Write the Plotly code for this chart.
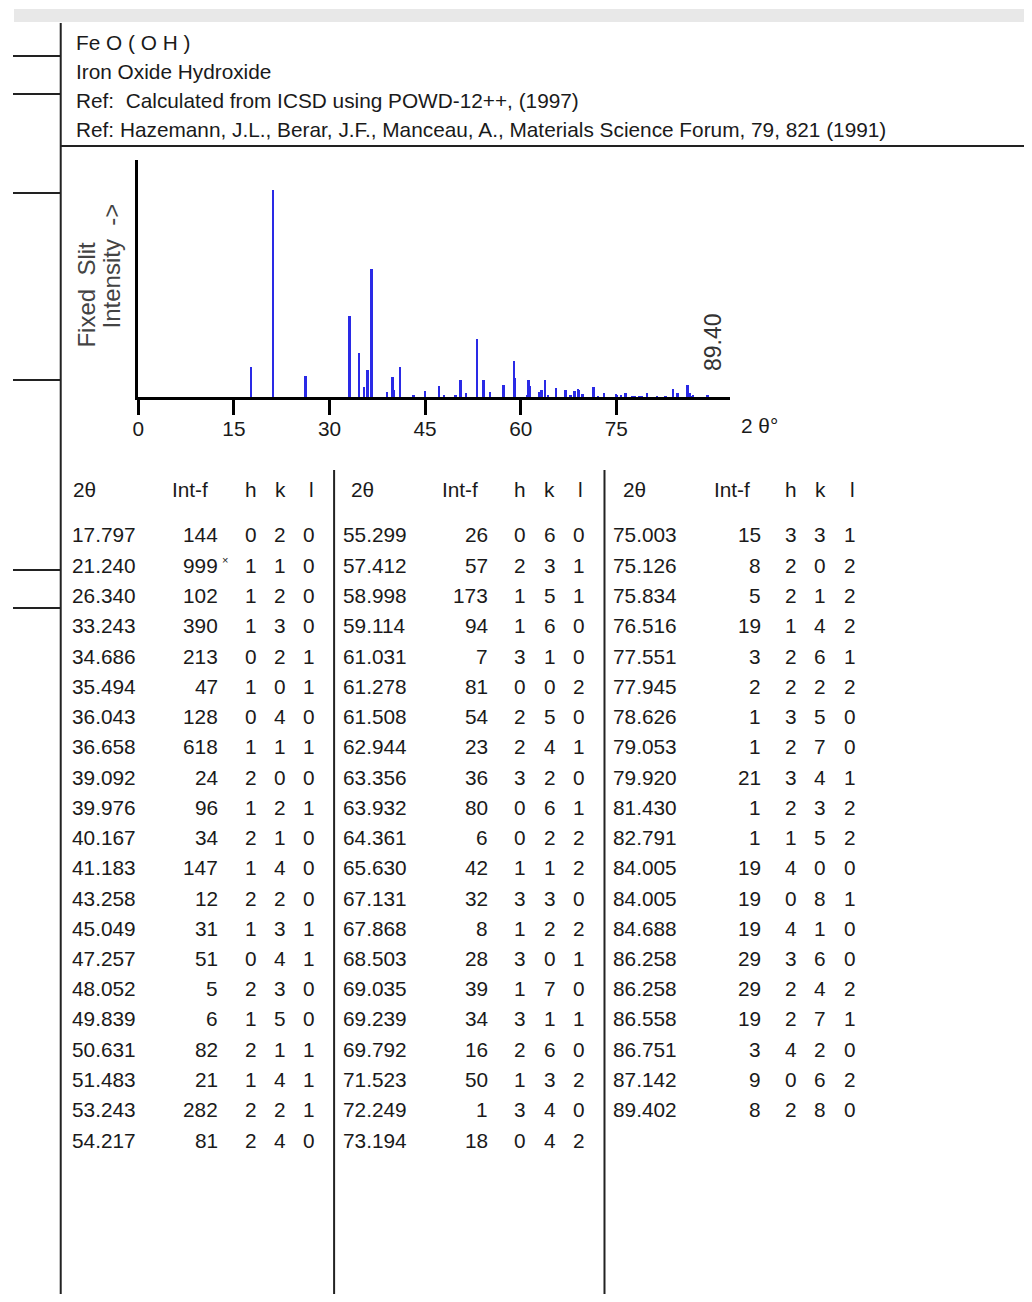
import plotly.graph_objects as go

# page geometry: browser body keeps its default 8px margin
PAGE_W, PAGE_H = 1032, 1302
OFF = 8
DX = -5          # small horizontal correction observed in rendering
PAD = 3          # annotation inner padding
W, H = PAGE_W - 2 * OFF, PAGE_H - 2 * OFF

# ---------------- data ----------------
formula = "Fe O ( O H )"
compound_name = "Iron Oxide Hydroxide"
ref1 = "Ref:  Calculated from ICSD using POWD-12++, (1997)"
ref2 = "Ref: Hazemann, J.L., Berar, J.F., Manceau, A., Materials Science Forum, 79, 821 (1991)"

two_theta = [
    17.797, 21.240, 26.340, 33.243, 34.686, 35.494, 36.043, 36.658, 39.092, 39.976,
    40.167, 41.183, 43.258, 45.049, 47.257, 48.052, 49.839, 50.631, 51.483, 53.243,
    54.217,
    55.299, 57.412, 58.998, 59.114, 61.031, 61.278, 61.508, 62.944, 63.356, 63.932,
    64.361, 65.630, 67.131, 67.868, 68.503, 69.035, 69.239, 69.792, 71.523, 72.249,
    73.194,
    75.003, 75.126, 75.834, 76.516, 77.551, 77.945, 78.626, 79.053, 79.920, 81.430,
    82.791, 84.005, 84.005, 84.688, 86.258, 86.258, 86.558, 86.751, 87.142, 89.402,
]
int_f = [
    144, 999, 102, 390, 213, 47, 128, 618, 24, 96,
    34, 147, 12, 31, 51, 5, 6, 82, 21, 282,
    81,
    26, 57, 173, 94, 7, 81, 54, 23, 36, 80,
    6, 42, 32, 8, 28, 39, 34, 16, 50, 1,
    18,
    15, 8, 5, 19, 3, 2, 1, 1, 21, 1,
    1, 19, 19, 19, 29, 29, 19, 3, 9, 8,
]
h_idx = [
    0, 1, 1, 1, 0, 1, 0, 1, 2, 1, 2, 1, 2, 1, 0, 2, 1, 2, 1, 2, 2,
    0, 2, 1, 1, 3, 0, 2, 2, 3, 0, 0, 1, 3, 1, 3, 1, 3, 2, 1, 3, 0,
    3, 2, 2, 1, 2, 2, 3, 2, 3, 2, 1, 4, 0, 4, 3, 2, 2, 4, 0, 2,
]
k_idx = [
    2, 1, 2, 3, 2, 0, 4, 1, 0, 2, 1, 4, 2, 3, 4, 3, 5, 1, 4, 2, 4,
    6, 3, 5, 6, 1, 0, 5, 4, 2, 6, 2, 1, 3, 2, 0, 7, 1, 6, 3, 4, 4,
    3, 0, 1, 4, 6, 2, 5, 7, 4, 3, 5, 0, 8, 1, 6, 4, 7, 2, 6, 8,
]
l_idx = [
    0, 0, 0, 0, 1, 1, 0, 1, 0, 1, 0, 0, 0, 1, 1, 0, 0, 1, 1, 1, 0,
    0, 1, 1, 0, 0, 2, 0, 1, 0, 1, 2, 2, 0, 2, 1, 0, 1, 0, 2, 0, 2,
    1, 2, 2, 2, 1, 2, 0, 0, 1, 2, 2, 0, 1, 0, 0, 2, 1, 0, 2, 0,
]
rows_per_block = [21, 21, 20]
x_ticks = [0, 15, 30, 45, 60, 75]
table_headers = ["2θ", "Int-f", "h", "k", "l"]
y_title_1 = "Fixed  Slit"
y_title_2 = "Intensity  ->"
x_title = "2 θ°"
last_peak_label = "89.40"

# ---------------- helpers (page pixel -> paper) ----------------
def px(x):
    return (x + DX - OFF) / W


def py(y):
    return 1 - (y - OFF) / H


SANS = "Liberation Sans, Arial, sans-serif"
INK = "#1a1a1a"
TXT = 20.8

fig = go.Figure()
fig.add_trace(
    go.Bar(
        x=two_theta,
        y=int_f,
        width=0.3,
        marker=dict(color="#2a2ae6", line=dict(width=0)),
        hoverinfo="x+y",
        showlegend=False,
    )
)

shapes = []


def line(x0, y0, x1, y1, w=2, c="#222222"):
    shapes.append(dict(type="line", xref="paper", yref="paper",
                       x0=px(x0), y0=py(y0), x1=px(x1), y1=py(y1),
                       line=dict(color=c, width=w)))


BOTTOM = PAGE_H - OFF
# top grey band
shapes.append(dict(type="rect", xref="paper", yref="paper", x0=0, x1=1,
                   y0=py(22), y1=py(9), fillcolor="#e8e8e8", line=dict(width=0), layer="below"))
# frame lines
line(60, 23, 60, BOTTOM)
for sy in [56, 94, 193, 380, 570, 608]:
    line(12, sy, 60, sy)
line(60, 146, PAGE_W + 10, 146)
line(335, 470, 335, BOTTOM)
line(607, 470, 607, BOTTOM)

annotations = []


def text(x, y, s, size=TXT, anchor="left", color=INK, angle=0):
    if angle == 0:
        if anchor == "left":
            x -= PAD
        elif anchor == "right":
            x += PAD
    annotations.append(dict(xref="paper", yref="paper", x=px(x), y=py(y), text=s,
                            showarrow=False, xanchor=anchor, yanchor="middle",
                            textangle=angle, font=dict(family=SANS, size=size, color=color)))


# header text
for i, s in enumerate([formula, compound_name, ref1, ref2]):
    text(76, 42 + i * 29.3, s)

# y axis title (rotated)
text(85, 295, y_title_1, size=24, anchor="center", color="#444444", angle=-90)
text(111, 266, y_title_2, size=24, anchor="center", color="#444444", angle=-90)
# x axis title
text(745, 426, x_title)
# label of last peak
annotations.append(dict(xref="x", yref="paper", x=two_theta[-1], y=py(342), text=last_peak_label,
                        showarrow=False, xanchor="center", yanchor="middle", textangle=-90,
                        xshift=5,
                        font=dict(family=SANS, size=23, color="#333333")))

# table
block_x = [
    dict(t=72, i=217, h=251, k=281, l=310, ht=73, hi=190),
    dict(t=345, i=489, h=522, k=552, l=581, ht=353, hi=462),
    dict(t=617, i=763, h=795, k=824, l=854, ht=627, hi=735),
]
header_y = 489
row0, dy = 535, 30.25
start = 0
for b, n in enumerate(rows_per_block):
    c = block_x[b]
    text(c["ht"], header_y, table_headers[0])
    text(c["hi"], header_y, table_headers[1], anchor="center")
    text(c["h"], header_y, table_headers[2], anchor="center")
    text(c["k"], header_y, table_headers[3], anchor="center")
    text(c["l"] + 2, header_y, table_headers[4], anchor="center")
    for r in range(n):
        j = start + r
        y = row0 + r * dy
        text(c["t"], y, f"{two_theta[j]:.3f}")
        text(c["i"], y, str(int_f[j]), anchor="right")
        if int_f[j] == max(int_f):
            text(c["i"] + 6, y - 5, "×", size=11)
        text(c["h"], y, str(h_idx[j]), anchor="center")
        text(c["k"], y, str(k_idx[j]), anchor="center")
        text(c["l"], y, str(l_idx[j]), anchor="center")
    start += n

fig.update_layout(
    width=W,
    height=H,
    margin=dict(l=0, r=0, t=0, b=0),
    paper_bgcolor="white",
    plot_bgcolor="white",
    shapes=shapes,
    annotations=annotations,
    bargap=0,
    xaxis=dict(
        domain=[px(138), px(733)],
        range=[0, 92.8],
        tickvals=x_ticks,
        ticks="outside",
        ticklen=15,
        tickwidth=3,
        tickcolor="black",
        ticklabelstandoff=-4,
        showline=True,
        linewidth=3,
        linecolor="black",
        showgrid=False,
        zeroline=False,
        tickfont=dict(family=SANS, size=TXT, color=INK),
        anchor="y",
    ),
    yaxis=dict(
        domain=[py(397), py(160)],
        range=[0, 1144],
        showticklabels=False,
        ticks="",
        showline=True,
        linewidth=3,
        linecolor="black",
        showgrid=False,
        zeroline=False,
        anchor="x",
    ),
)

fig.write_html("out.html", config={"displayModeBar": False})
